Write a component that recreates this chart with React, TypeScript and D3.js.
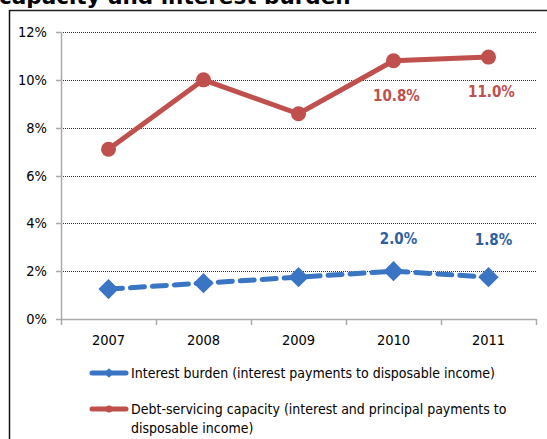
import React from "react";
import * as d3 from "d3";

const years = ["2007", "2008", "2009", "2010", "2011"];
const interestBurden = [1.25, 1.5, 1.75, 2.0, 1.75];
const debtServicing = [7.1, 10.0, 8.58, 10.8, 10.95];
const yTicks = [0, 2, 4, 6, 8, 10, 12];
const interestLabels = [null, null, null, "2.0%", "1.8%"];
const debtLabels = [null, null, null, "10.8%", "11.0%"];
const legendInterest = ["Interest burden (interest payments to disposable income)"];
const legendDebt = ["Debt-servicing capacity (interest and principal payments to", "disposable income)"];
const title = "capacity and interest burden";

const RED = "#C0504D";
const BLUE = "#3A75C4";
const BLUE_LABEL = "#2E5F9F";
const FONT = "'DejaVu Sans Condensed', 'DejaVu Sans', sans-serif";

export default function App() {
  const W = 547, H = 439;
  const x = d3.scaleBand().domain(years).range([61, 536]);
  const y = d3.scaleLinear().domain([0, 12]).range([319, 32]);
  const cx = (d: string) => (x(d) as number) + x.bandwidth() / 2;

  const redLine = d3.line<number>().x((_, i) => cx(years[i])).y((v) => y(v));
  const blueLine = d3.line<number>().x((_, i) => cx(years[i])).y((v) => y(v));
  const diamond = d3.symbol().type(d3.symbolDiamond2).size(260)();
  const interestLabelTop = Math.min(...interestBurden.map((v) => y(v))) - 32;

  return (
    <svg width={W} height={H} style={{ position: "absolute", left: 0, top: 0 }}>
      <rect x={0} y={0} width={W} height={H} fill="#fff" />
      <text x={-1} y={4} fontFamily="Verdana, 'DejaVu Sans', sans-serif" fontWeight="bold" fontSize={21.5} fill="#000">
        {title}
      </text>
      <line x1={9.5} y1={10.5} x2={W} y2={10.5} stroke="#222" strokeWidth={1.5} />
      <line x1={9.5} y1={10} x2={9.5} y2={H} stroke="#111" strokeWidth={1.5} />

      {yTicks.slice(1).map((t) => (
        <line key={"g" + t} x1={61} x2={536} y1={Math.round(y(t)) + 0.5} y2={Math.round(y(t)) + 0.5}
          stroke="#333" strokeWidth={1} strokeDasharray="1,1" />
      ))}
      <line x1={61.5} x2={61.5} y1={32} y2={319} stroke="#aaa" strokeWidth={1.5} />
      <line x1={61} x2={536} y1={319.5} y2={319.5} stroke="#aaa" strokeWidth={1.5} />
      {yTicks.map((t) => (
        <g key={"t" + t}>
          <line x1={56} x2={61} y1={Math.round(y(t)) + 0.5} y2={Math.round(y(t)) + 0.5} stroke="#aaa" strokeWidth={1.5} />
          <text x={47} y={y(t)} dy="0.35em" textAnchor="end" fontFamily={FONT} fontSize={14.5} fill="#000">{t}%</text>
        </g>
      ))}
      {[...years.map((d) => x(d) as number), 536].map((v, i) => (
        <line key={"xt" + i} x1={Math.round(v) + 0.5} x2={Math.round(v) + 0.5} y1={319} y2={325} stroke="#aaa" strokeWidth={1.5} />
      ))}
      {years.map((d) => (
        <text key={"xl" + d} x={cx(d)} y={340} dy="0.35em" textAnchor="middle" fontFamily={FONT} fontSize={14.5} fill="#000">{d}</text>
      ))}

      <path d={blueLine(interestBurden) || ""} fill="none" stroke={BLUE} strokeWidth={5} strokeDasharray="14,8" strokeLinecap="round" />
      {interestBurden.map((v, i) => (
        <path key={"bd" + i} d={diamond || ""} transform={`translate(${cx(years[i])},${y(v)})`} fill={BLUE} />
      ))}
      <path d={redLine(debtServicing) || ""} fill="none" stroke={RED} strokeWidth={5} />
      {debtServicing.map((v, i) => (
        <circle key={"rc" + i} cx={cx(years[i])} cy={y(v)} r={7.5} fill={RED} />
      ))}

      {debtLabels.map((l, i) => l && (
        <text key={"dl" + i} x={cx(years[i]) + 3} y={y(debtServicing[i]) + 35} dy="0.35em" textAnchor="middle"
          fontFamily={FONT} fontWeight="bold" fontSize={15} fill={RED}>{l}</text>
      ))}
      {interestLabels.map((l, i) => l && (
        <text key={"il" + i} x={cx(years[i]) + 5} y={interestLabelTop + (i === 4 ? 1 : 0)} dy="0.35em" textAnchor="middle"
          fontFamily={FONT} fontWeight="bold" fontSize={15} fill={BLUE_LABEL}>{l}</text>
      ))}

      <g>
        <line x1={92} x2={126} y1={373} y2={373} stroke={BLUE} strokeWidth={5} strokeLinecap="round" />
        <path d={d3.symbol().type(d3.symbolDiamond2).size(60)() || ""} transform="translate(109,373)" fill={BLUE} />
        <text x={131} y={373} dy="0.35em" fontFamily={FONT} fontSize={14} fill="#000">{legendInterest[0]}</text>
        <line x1={92} x2={126} y1={409} y2={409} stroke={RED} strokeWidth={5} strokeLinecap="round" />
        <circle cx={109} cy={409} r={3.5} fill={RED} />
        {legendDebt.map((s, i) => (
          <text key={"ld" + i} x={131} y={409 + i * 19} dy="0.35em" fontFamily={FONT} fontSize={14} fill="#000">{s}</text>
        ))}
      </g>
    </svg>
  );
}
